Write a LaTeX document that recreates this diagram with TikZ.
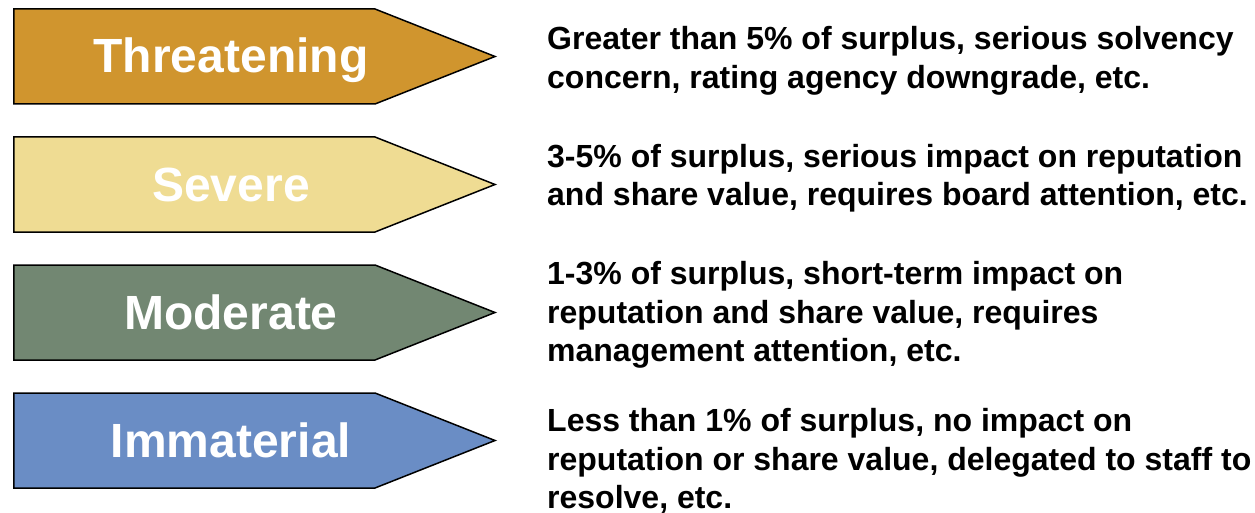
\documentclass[tikz,border=0pt]{standalone}
\usepackage{fontspec}
\setmainfont{Liberation Sans}
\usetikzlibrary{shapes.symbols}

\definecolor{threatcol}{RGB}{208,149,46}
\definecolor{severecol}{RGB}{239,220,147}
\definecolor{moderatecol}{RGB}{114,135,114}
\definecolor{immatcol}{RGB}{106,141,197}

\tikzset{
  levelbox/.style={signal, signal to=east, signal pointer angle=43.2,
    draw=black, line width=1.5pt, inner sep=0pt,
    minimum width=481pt, minimum height=95pt},
  levelname/.style={anchor=base, text=white,
    font=\bfseries\fontsize{48}{52}\selectfont},
  leveltext/.style={anchor=west, align=left, inner sep=0pt,
    font=\bfseries\fontsize{32}{38.5}\selectfont}
}

\begin{document}
\begin{tikzpicture}[x=1pt,y=-1pt]
\useasboundingbox (0,0) rectangle (1255,513);

% the four severity levels
\node[levelbox, fill=threatcol]   (threat)   at (194.5,56.5)  {};
\node[levelbox, fill=severecol]   (severe)   at (194.5,184.5) {};
\node[levelbox, fill=moderatecol] (moderate) at (194.5,312.5) {};
\node[levelbox, fill=immatcol]    (immat)    at (194.5,440.5) {};

\node[levelname] (threat-name)   at ([shift={(36.5,16.5)}]threat.center)   {Threatening};
\node[levelname] (severe-name)   at ([shift={(36.5,16.5)}]severe.center)   {Severe};
\node[levelname] (moderate-name) at ([shift={(36.5,16.5)}]moderate.center) {Moderate};
\node[levelname] (immat-name)    at ([shift={(36.5,16.5)}]immat.center)    {Immaterial};

% what each level means
\node[leveltext] (threat-text) at (547,61)
  {Greater than 5\% of surplus, serious solvency\\concern, rating agency downgrade, etc.};
\node[leveltext] (severe-text) at (547,178)
  {3-5\% of surplus, serious impact on reputation\\and share value, requires board attention, etc.};
\node[leveltext] (moderate-text) at (547,315)
  {1-3\% of surplus, short-term impact on\\reputation and share value, requires\\management attention, etc.};
\node[leveltext] (immat-text) at (547,461)
  {Less than 1\% of surplus, no impact on\\reputation or share value, delegated to staff to\\resolve, etc.};
\end{tikzpicture}
\end{document}
